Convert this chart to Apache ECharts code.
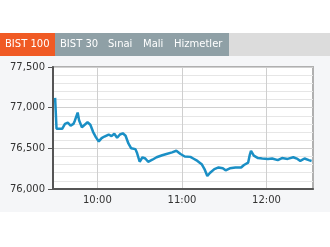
<!DOCTYPE html>
<html>
<head>
<meta charset="utf-8">
<script src="https://cdn.jsdelivr.net/npm/echarts@6/dist/echarts.min.js"></script>
<style>
html,body{margin:0;padding:0;background:#fff;}
#c{width:330px;height:247px;}
</style>
</head>
<body>
<div id="c"></div>
<script>
const tabLabels = ['BIST 100', 'BIST 30', 'Sınai', 'Mali', 'Hizmetler'];
const times = ['9:30','9:31','9:35','9:37','9:39','9:41','9:43','9:44','9:46','9:47','9:49','9:51','9:53','9:55','9:57','9:59',
  '10:01','10:03','10:05','10:08','10:10','10:12','10:14','10:16','10:18','10:20','10:22','10:24','10:27','10:28','10:30','10:32','10:34','10:36','10:39','10:42','10:46','10:49','10:53','10:56','10:59',
  '11:02','11:06','11:08','11:11','11:14','11:16','11:18','11:20','11:23','11:26','11:29','11:31','11:34','11:38','11:42','11:44','11:47','11:48','11:49','11:51','11:54','11:57',
  '12:01','12:04','12:08','12:11','12:15','12:19','12:22','12:24','12:27','12:30','12:32'];
const values = [77120,76740,76740,76800,76815,76780,76800,76840,76940,76845,76760,76790,76820,76790,76700,76635,
  76585,76625,76645,76670,76650,76680,76630,76670,76685,76655,76560,76500,76490,76450,76335,76390,76375,76335,76360,76390,76415,76430,76450,76470,76430,
  76400,76395,76375,76345,76305,76245,76160,76200,76245,76265,76255,76230,76255,76265,76265,76295,76325,76410,76470,76410,76380,76375,
  76370,76375,76355,76380,76370,76390,76370,76345,76375,76355,76345];
const xTicks = ['10:00', '11:00', '12:00'];

function toMin(t){ const p=t.split(':'); return (+p[0])*60 + (+p[1]); }
function fmtMin(m){ const h=Math.floor(m/60), mm=Math.round(m%60); return h+':'+(mm<10?'0':'')+mm; }

const data = times.map((t,i)=>[toMin(t), values[i]]);
const xTickValues = xTicks.map(toMin);

const chart = echarts.init(document.getElementById('c'), null, {renderer:'canvas'});

const tabWidths = [55, 48, 35, 31, 60];
const gfx = [
  {type:'rect', shape:{x:0,y:56,width:330,height:156}, style:{fill:'#f5f6f8'}, z:-10, silent:true},
  {type:'rect', shape:{x:0,y:33,width:330,height:23}, style:{fill:'#dcdcdc'}, z:-5, silent:true}
];
let xPos = 0;
tabLabels.forEach((lab,i)=>{
  gfx.push({type:'rect', shape:{x:xPos,y:33,width:tabWidths[i],height:23}, style:{fill: i===0 ? '#f05a24' : '#8fa0a6'}, z:-4, silent:true});
  gfx.push({type:'text', x:xPos+5, y:44.5, style:{text:lab, fill:'#fff', font:'10px "DejaVu Sans"', textVerticalAlign:'middle'}, z:-3, silent:true});
  xPos += tabWidths[i];
});

chart.setOption({
  animation:false,
  graphic: gfx,
  grid:{left:53, right:17, top:67, bottom:58, show:true, backgroundColor:'#fff', borderColor:'#b0b0b0', borderWidth:2},
  xAxis:{
    type:'value', min:568.5, max:753,
    axisLine:{show:true, lineStyle:{color:'#555', width:2}},
    axisTick:{show:false, customValues:xTickValues},
    axisLabel:{show:true, customValues:xTickValues, color:'#333', fontFamily:'DejaVu Sans', fontSize:10, margin:6,
      formatter:(v)=> fmtMin(v)},
    splitLine:{show:true, lineStyle:{color:'#cfcfcf', width:1}}
  },
  yAxis:{
    type:'value', min:76000, max:77500, interval:500,
    axisLine:{show:true, lineStyle:{color:'#555', width:2}},
    axisTick:{show:true, length:5, lineStyle:{color:'#555', width:1}},
    axisLabel:{color:'#333', fontFamily:'DejaVu Sans', fontSize:10, margin:8,
      formatter:(v)=> v.toLocaleString('en-US')},
    splitLine:{show:true, lineStyle:{color:'#d0d0d0', width:1}},
    minorTick:{show:false, splitNumber:5},
    minorSplitLine:{show:true, lineStyle:{color:'#e6e6e6', width:1}}
  },
  series:[{
    type:'line', data:data, symbol:'none', smooth:false,
    lineStyle:{color:'#1a8fc5', width:2.5}
  }]
});
</script>
</body>
</html>
